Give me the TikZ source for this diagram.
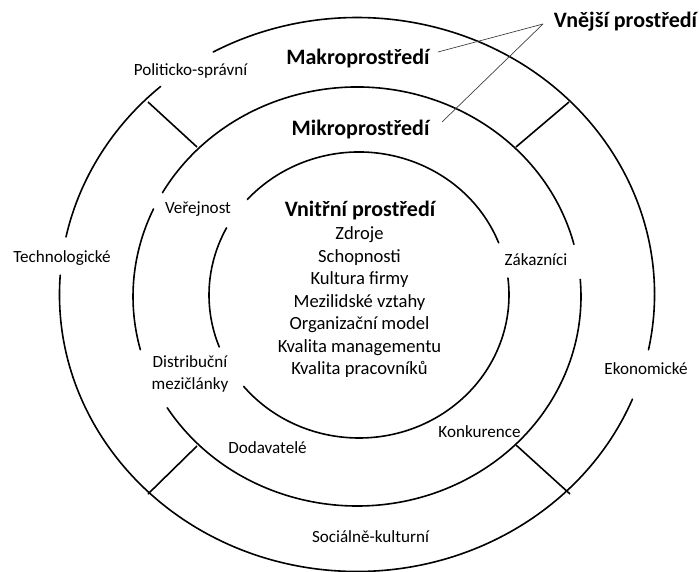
\documentclass[tikz,border=0pt]{standalone}
\usepackage{fontspec}
\setmainfont{Carlito}
\begin{document}
\begin{tikzpicture}[x=1pt,y=-1pt,
  ring/.style={line width=1.6pt, line cap=round},
  divider/.style={line width=1.6pt},
  leader/.style={line width=0.7pt, draw=black!75},
  head/.style={font=\fontsize{22}{26}\selectfont\bfseries, inner sep=1pt},
  lab/.style={font=\fontsize{17.1}{22}\selectfont, inner sep=1pt, align=center},
  inlist/.style={font=\fontsize{18.6}{22.5}\selectfont, inner sep=0pt, align=center}]
\useasboundingbox (0,0) rectangle (699,572);

% outer ring (macro environment), broken where labels sit
\draw[ring] (357,294.5) ++(11.5:297.5 and 277) arc[start angle=11.5, end angle=-118.9, x radius=297.5, y radius=277];
\draw[ring] (357,294.5) ++(-131.3:297.5 and 277) arc[start angle=-131.3, end angle=-168, x radius=297.5, y radius=277];
\draw[ring] (357,294.5) ++(-176:297.5 and 277) arc[start angle=-176, end angle=-337.8, x radius=297.5, y radius=277];

% middle ring (micro environment)
\draw[ring] (357,296.5) ++(-14.4:224 and 209.5) arc[start angle=-14.4, end angle=-150.3, x radius=224, y radius=209.5];
\draw[ring] (357,296.5) ++(-155.3:224 and 209.5) arc[start angle=-155.3, end angle=-194.7, x radius=224, y radius=209.5];
\draw[ring] (357,296.5) ++(-212.1:224 and 209.5) arc[start angle=-212.1, end angle=-364.7, x radius=224, y radius=209.5];

% inner ring (internal environment)
\draw[ring] (359,295) ++(-21.4:150 and 143) arc[start angle=-21.4, end angle=-138.1, x radius=150, y radius=143];
\draw[ring] (359,295) ++(-152:150 and 143) arc[start angle=-152, end angle=-201.3, x radius=150, y radius=143];
\draw[ring] (359,295) ++(-219.7:150 and 143) arc[start angle=-219.7, end angle=-366.8, x radius=150, y radius=143];

% radial dividers between the outer and middle rings
\coordinate (o1) at (148,102); \coordinate (i1) at (197,147);
\coordinate (o2) at (569,102); \coordinate (i2) at (516,147);
\coordinate (o3) at (148,494); \coordinate (i3) at (197,446);
\coordinate (o4) at (570,494); \coordinate (i4) at (516,445);
\draw[divider] (o1) -- (i1);
\draw[divider] (o2) -- (i2);
\draw[divider] (o3) -- (i3);
\draw[divider] (o4) -- (i4);

% headings
\node[head] (vnejsi) at (625.5,22) {Vnější prostředí};
\node[head] (makro) at (358,59) {Makroprostředí};
\node[head] (mikro) at (360.5,130) {Mikroprostředí};
\node[head] (vnitrni) at (360,211) {Vnitřní prostředí};

% leaders from the outer heading
\coordinate (vp) at (543,24);
\coordinate (mk) at (438,52);
\coordinate (mi) at (442,122);
\draw[leader] (vp) -- (mk);
\draw[leader] (vp) -- (mi);

% macro factors
\node[lab] (polit) at (190.5,71) {Politicko-správní};
\node[lab] (tech) at (62,258) {Technologické};
\node[lab] (ekon) at (646,369) {Ekonomické};
\node[lab] (soc) at (370.5,537) {Sociálně-kulturní};

% micro factors
\node[lab] (ver) at (198,209) {Veřejnost};
\node[lab] (zak) at (536,260) {Zákazníci};
\node[lab] (dist) at (190,374) {Distribuční\\mezičlánky};
\node[lab] (dod) at (267.5,448) {Dodavatelé};
\node[lab] (konk) at (479.5,432) {Konkurence};

% internal factors
\node[inlist] (list) at (359.5,302.5) {Zdroje\\Schopnosti\\Kultura firmy\\Mezilidské vztahy\\Organizační model\\Kvalita managementu\\Kvalita pracovníků};
\end{tikzpicture}
\end{document}
